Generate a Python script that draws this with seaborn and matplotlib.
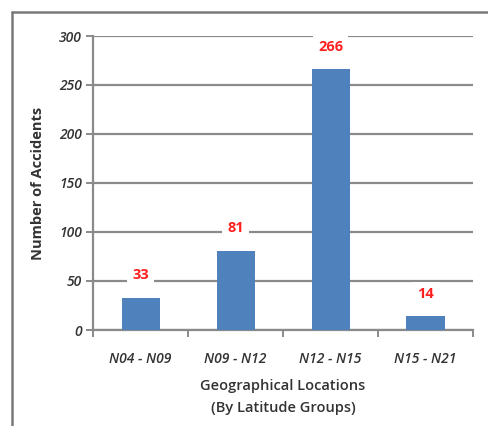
import matplotlib
matplotlib.use("Agg")
import matplotlib.pyplot as plt
from matplotlib.lines import Line2D
import seaborn as sns
import pandas as pd

# Accident counts by latitude group
locations = ["N04 - N09", "N09 - N12", "N12 - N15", "N15 - N21"]
accidents = [33, 81, 266, 14]
y_ticks = [0, 50, 100, 150, 200, 250, 300]

df = pd.DataFrame({"location": locations, "accidents": accidents})

sns.set_theme(style="white")
plt.rcParams["font.family"] = ["Open Sans", "DejaVu Sans"]

fig = plt.figure(figsize=(4.89, 4.26), dpi=100)
ax = fig.add_axes([93 / 489, 1 - 330 / 426, (473 - 93) / 489, (330 - 36) / 426])

sns.barplot(data=df, x="location", y="accidents", color="#4F81BD",
            width=0.4, saturation=1, edgecolor="none", linewidth=0,
            ax=ax, zorder=3)

ax.set_ylim(0, 300)
ax.set_xlim(-0.5, len(locations) - 0.5)
ax.set_yticks(y_ticks)
ax.yaxis.grid(True, color="#8a8a8a", linewidth=1.6, zorder=0)
ax.set_axisbelow(True)

for side in ["top", "right"]:
    ax.spines[side].set_visible(False)
for side in ["left", "bottom"]:
    ax.spines[side].set_color("#8a8a8a")
    ax.spines[side].set_linewidth(1.6)

# y ticks outward, x ticks at category boundaries
ax.tick_params(axis="y", which="major", direction="out", length=5, width=1.4,
               color="#8a8a8a", left=True, pad=3)
ax.set_yticklabels([str(t) for t in y_ticks], fontsize=10, fontstyle="italic",
                   fontweight="semibold", color="#333333")
ax.set_xticks(range(len(locations)))
ax.set_xticklabels(locations, fontsize=10, fontstyle="italic",
                   fontweight="semibold", color="#333333")
ax.tick_params(axis="x", which="major", length=0, pad=16)
ax.set_xticks([i - 0.5 for i in range(len(locations) + 1)], minor=True)
ax.tick_params(axis="x", which="minor", direction="out", length=5, width=1.4,
               color="#8a8a8a", bottom=True)

ax.set_xlabel("Geographical Locations\n(By Latitude Groups)", fontsize=10.5,
              fontweight="semibold", color="#333333", labelpad=9, linespacing=1.75)
ax.set_ylabel("Number of Accidents", fontsize=10.5, fontweight="bold",
              color="#333333", labelpad=10)

# value labels on white boxes above the bars
for i, v in enumerate(accidents):
    ax.annotate(str(v), (i, v), xytext=(0, 11), textcoords="offset points",
                ha="center", va="bottom", color="#ff2020", fontsize=10.5,
                fontweight="bold",
                bbox=dict(boxstyle="square,pad=0.35", fc="white", ec="none"),
                zorder=5)

# outer frame
fig.add_artist(Line2D([12 / 489, 12 / 489], [0, 1 - 12 / 426],
                      transform=fig.transFigure, color="#7a7a7a", linewidth=1.8))
fig.add_artist(Line2D([12 / 489, 1], [1 - 12 / 426, 1 - 12 / 426],
                      transform=fig.transFigure, color="#7a7a7a", linewidth=1.8))

fig.savefig("out.png", dpi=100)
